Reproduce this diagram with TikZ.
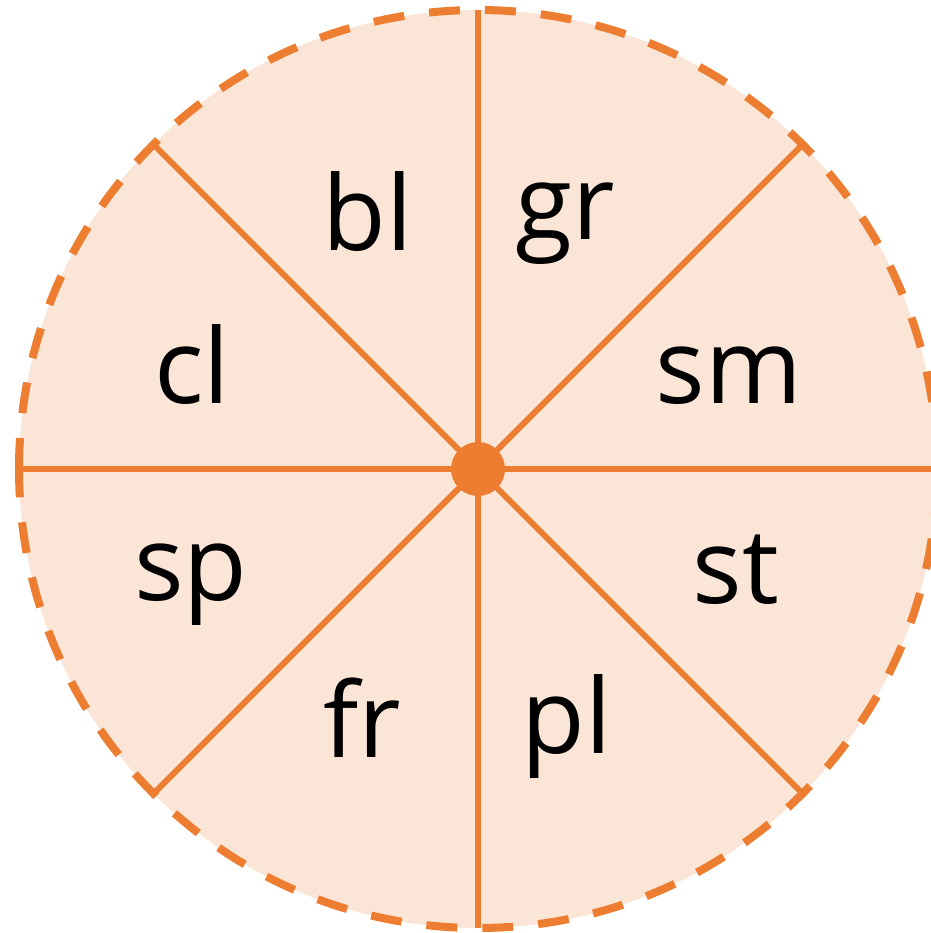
\documentclass[tikz,border=0pt]{standalone}
\usepackage{fontspec}
\setmainfont{Open Sans}
\usetikzlibrary{calc}
\definecolor{orng}{HTML}{ED7D31}
\definecolor{peach}{HTML}{FBE5D6}
\begin{document}
\begin{tikzpicture}[x=1pt,y=-1pt,
  spoke/.style={draw=orng,line width=6pt},
  rim/.style={draw=orng,line width=8pt,dash pattern=on 31pt off 25pt},
  lbl/.style={anchor=base,inner sep=0pt,font=\fontsize{104}{116}\selectfont,text=black}]
\useasboundingbox (0,0) rectangle (930,933);
\coordinate (C) at (478,469);
\fill[peach] (C) circle[radius=459pt];
\foreach \a in {0,45,...,315}{
  \coordinate (e\a) at ($(C)+(\a:459)$);
  \draw[spoke] (C) -- (e\a);
}
\draw[rim] ($(C)+(180:459)$) arc[start angle=180,end angle=-180,radius=459pt];
\node[circle,fill=orng,minimum size=54pt,inner sep=0pt] (hub) at (C) {};
\node[lbl] (bl) at (368,251) {bl};
\node[lbl] (gr) at (565,240) {gr};
\node[lbl] (cl) at (192,403) {cl};
\node[lbl] (sm) at (729,403) {sm};
\node[lbl] (sp) at (191,600) {sp};
\node[lbl] (st) at (736,603) {st};
\node[lbl] (fr) at (362,757) {fr};
\node[lbl] (pl) at (567,753) {pl};
\end{tikzpicture}
\end{document}
